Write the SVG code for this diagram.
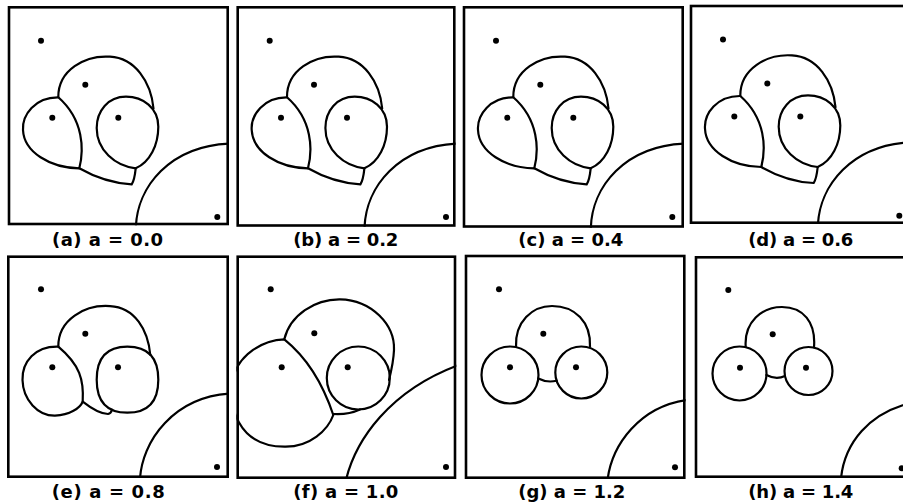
<svg xmlns="http://www.w3.org/2000/svg" xmlns:xlink="http://www.w3.org/1999/xlink" width="903" height="502" viewBox="0 0 903 502">
<style>
.box{fill:none;stroke:#000;stroke-width:2.6}
.c{fill:none;stroke:#000;stroke-width:2.2;stroke-linejoin:round;stroke-linecap:round}
.dot{fill:#000}
.lbl{font-family:"DejaVu Sans","Liberation Sans",sans-serif;font-weight:bold;font-size:18px;fill:#000}
</style>
<defs>
<clipPath id="ca"><rect x="7.7" y="6" width="221.3" height="219.3"/></clipPath>
<clipPath id="cb"><rect x="236.4" y="6" width="219.2" height="220.8"/></clipPath>
<clipPath id="cc"><rect x="462.7" y="6" width="221.3" height="221.8"/></clipPath>
<clipPath id="cd"><rect x="689.7" y="4.7" width="230" height="219.3"/></clipPath>
<clipPath id="ce"><rect x="7" y="255.4" width="222" height="222.6"/></clipPath>
<clipPath id="cf"><rect x="236.4" y="255.4" width="219.9" height="223.6"/></clipPath>
<clipPath id="cg"><rect x="464.7" y="254.7" width="220.9" height="224.3"/></clipPath>
<clipPath id="ch"><rect x="694.7" y="256" width="230" height="222"/></clipPath>
<g id="tpl">
<path class="c" d="M58.3,97.3 C58,70 85,55 110,56.7 C135,58 151,82 153.5,108.5"/>
<path class="c" d="M135.7,168.3 C150,162 158.3,145 158.3,126.7 C158.3,108 143,96.7 126,96.7 C108,96.7 96.7,111 96.7,128 C96.7,150 115,166 135.7,168.3 Z"/>
<path class="c" d="M58.3,97.3 C35,97 22,115 23,130 C24,152 50,168 79.3,168.3 C84,150 84,120 58.3,97.3 Z"/>
<path class="c" d="M79.3,168.3 Q105,183 131.7,184.3 Q134.5,180 135.7,168.3"/>
<path class="c" d="M135.8,229 C136.5,187 170,145 232,143.5"/>
<circle class="dot" cx="41" cy="40.7" r="3"/>
<circle class="dot" cx="85.3" cy="84.7" r="3"/>
<circle class="dot" cx="52.3" cy="117.7" r="3"/>
<circle class="dot" cx="118.3" cy="117.7" r="3"/>
<circle class="dot" cx="217.3" cy="217" r="3"/>
</g>
</defs>
<rect width="903" height="502" fill="#fff"/>

<g id="panel-a">
<g clip-path="url(#ca)"><use xlink:href="#tpl" href="#tpl"/></g>
<rect class="box" x="9" y="7.3" width="218.7" height="216.7"/>
<text class="lbl" x="52" y="246" textLength="111" lengthAdjust="spacing">(a) a = 0.0</text>
</g>

<g id="panel-b">
<g clip-path="url(#cb)"><use xlink:href="#tpl" href="#tpl" transform="translate(228.7,0)"/></g>
<rect class="box" x="237.7" y="7.3" width="216.6" height="218.2"/>
<text class="lbl" x="293.3" y="246" textLength="105" lengthAdjust="spacing">(b) a = 0.2</text>
</g>

<g id="panel-c">
<g clip-path="url(#cc)"><use xlink:href="#tpl" href="#tpl" transform="translate(455,0)"/></g>
<rect class="box" x="464" y="7.3" width="218.7" height="219.2"/>
<text class="lbl" x="518.3" y="246" textLength="105" lengthAdjust="spacing">(c) a = 0.4</text>
</g>

<g id="panel-d">
<g clip-path="url(#cd)"><use xlink:href="#tpl" href="#tpl" transform="translate(682,-1.3)"/></g>
<rect class="box" x="691" y="6" width="230" height="216.7"/>
<text class="lbl" x="748.3" y="246" textLength="105" lengthAdjust="spacing">(d) a = 0.6</text>
</g>

<g id="panel-e">
<g clip-path="url(#ce)">
<path class="c" d="M58.3,346.7 C58,319.4 85,304.4 110,306.1 C135,307.4 148,330 150.3,355"/>
<path class="c" d="M127.3,346.7 C147.3,346.7 158.3,357.7 158.3,379.7 C158.3,401.7 147.3,412.7 127.3,412.7 C107.3,412.7 96.7,401.7 96.7,379.7 C96.7,357.7 107.3,346.7 127.3,346.7 Z"/>
<path class="c" d="M58.3,346.7 C35,346 22,362 22.5,380 C23,400 38,416 55,415.7 C70,415 80,408 82.7,401.7 C84,380 80,365 58.3,346.7 Z"/>
<path class="c" d="M82.7,401.7 C92,409 102,414 108,414 Q111,413.5 112,409.7"/>
<path class="c" d="M139.8,482 C141,440 175,396 232,393.5"/>
<circle class="dot" cx="41" cy="289.3" r="3"/>
<circle class="dot" cx="85.3" cy="333.7" r="3"/>
<circle class="dot" cx="52.3" cy="367.3" r="3"/>
<circle class="dot" cx="118" cy="367.3" r="3"/>
<circle class="dot" cx="217" cy="467" r="3"/>
</g>
<rect class="box" x="8.3" y="256.7" width="219.4" height="220"/>
<text class="lbl" x="51.7" y="498" textLength="113" lengthAdjust="spacing">(e) a = 0.8</text>
</g>

<g id="panel-f">
<g clip-path="url(#cf)">
<path class="c" d="M284.3,339.3 C262,340 240,355 234,375 C226,405 238,447 285,446.7 C310,447 328,430 333.3,415 C325,390 310,360 284.3,339.3 Z"/>
<path class="c" d="M284.3,339.3 C290,315 315,299 340,299.3 C372,300 395,325 394,350 C393.5,362 391,372 389,380"/>
<circle class="c" cx="358.3" cy="378" r="31.5"/>
<path class="c" d="M333.3,414 Q348,415 360,409.5"/>
<path class="c" d="M345.5,482 C355,440 390,390 460,364.5"/>
<circle class="dot" cx="270.7" cy="289.3" r="3"/>
<circle class="dot" cx="314.3" cy="333.3" r="3"/>
<circle class="dot" cx="281.7" cy="367.3" r="3"/>
<circle class="dot" cx="347.7" cy="367.3" r="3"/>
<circle class="dot" cx="446" cy="467" r="3"/>
</g>
<rect class="box" x="237.7" y="256.7" width="217.3" height="221"/>
<text class="lbl" x="293.3" y="498" textLength="105" lengthAdjust="spacing">(f) a = 1.0</text>
</g>

<g id="panel-g">
<g clip-path="url(#cg)">
<path class="c" d="M516,346.7 C515,322 532,306 552,306 C575,306 591,322 590,346.7"/>
<circle class="c" cx="510" cy="375" r="28.5"/>
<circle class="c" cx="581.3" cy="372.5" r="26"/>
<path class="c" d="M538.3,378.5 Q547,383 556.6,380.7"/>
<path class="c" d="M607.3,482 C611,445 640,405 690,399.5"/>
<circle class="dot" cx="499" cy="289.3" r="3"/>
<circle class="dot" cx="543.3" cy="333.7" r="3"/>
<circle class="dot" cx="510" cy="367.3" r="3"/>
<circle class="dot" cx="576" cy="367.3" r="3"/>
<circle class="dot" cx="675" cy="467.3" r="3"/>
</g>
<rect class="box" x="466" y="256" width="218.3" height="221.7"/>
<text class="lbl" x="518.3" y="498" textLength="107" lengthAdjust="spacing">(g) a = 1.2</text>
</g>

<g id="panel-h">
<g clip-path="url(#ch)">
<path class="c" d="M745.7,346.7 C744,322 762,307 782,307 C803,307 816,322 814,347.3"/>
<circle class="c" cx="739.5" cy="373.5" r="27"/>
<circle class="c" cx="808.5" cy="371" r="24"/>
<path class="c" d="M766.4,375 Q776,380 785,376"/>
<path class="c" d="M840.7,482 C843,445 868,410 920,401"/>
<circle class="dot" cx="728.3" cy="290" r="3"/>
<circle class="dot" cx="772.7" cy="334.3" r="3"/>
<circle class="dot" cx="740" cy="367.7" r="3"/>
<circle class="dot" cx="806" cy="367.7" r="3"/>
<circle class="dot" cx="901.7" cy="468.3" r="3"/>
</g>
<rect class="box" x="696" y="257.3" width="230" height="219.4"/>
<text class="lbl" x="748.3" y="498" textLength="105" lengthAdjust="spacing">(h) a = 1.4</text>
</g>
</svg>
